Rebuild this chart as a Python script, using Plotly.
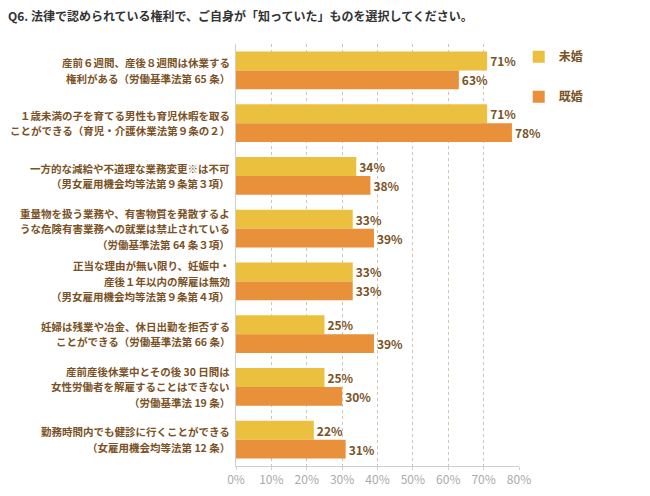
import plotly.graph_objects as go

categories = [
    "産前６週間、産後８週間は休業する<br>権利がある（労働基準法第 65 条）",
    "１歳未満の子を育てる男性も育児休暇を取る<br>ことができる（育児・介護休業法第９条の２）",
    "一方的な減給や不道理な業務変更※は不可<br>（男女雇用機会均等法第９条第３項）",
    "重量物を扱う業務や、有害物質を発散するよ<br>うな危険有害業務への就業は禁止されている<br>（労働基準法第 64 条３項）",
    "正当な理由が無い限り、妊娠中・<br>産後１年以内の解雇は無効<br>（男女雇用機会均等法第９条第４項）",
    "妊婦は残業や冶金、休日出勤を拒否する<br>ことができる（労働基準法第 66 条）",
    "産前産後休業中とその後 30 日間は<br>女性労働者を解雇することはできない<br>（労働基準法 19 条）",
    "勤務時間内でも健診に行くことができる<br>（女雇用機会均等法第 12 条）",
]
unmarried = [71, 71, 34, 33, 33, 25, 25, 22]
married = [63, 78, 38, 39, 33, 39, 30, 31]
series_names = ["未婚", "既婚"]
x_ticks = [0, 10, 20, 30, 40, 50, 60, 70, 80]
x_tick_labels = [f"{t}%" for t in x_ticks]

FONT = "Noto Sans CJK JP"
BROWN = "#7a5226"
LINE_H = 15.5

fig = go.Figure()
for name, vals, color in [(series_names[0], unmarried, "#EBC03F"),
                          (series_names[1], married, "#E9903B")]:
    fig.add_trace(go.Bar(
        y=categories, x=vals, name=name, orientation="h",
        marker=dict(color=color, line=dict(width=0)),
        text=[f"{v}%" for v in vals], texttemplate="<b>%{text}</b>",
        textposition="outside",
        textfont=dict(family=FONT, size=12, color=BROWN),
        cliponaxis=False, legendgroup=name,
    ))

# category labels, one annotation per line so lines never collide
for cat in categories:
    lines = cat.split("<br>")
    n = len(lines)
    for i, ln in enumerate(lines):
        fig.add_annotation(
            x=0, xref="paper", xshift=-4, xanchor="right",
            y=cat, yref="y", yanchor="middle",
            yshift=((n - 1) / 2 - i) * LINE_H,
            text=f"<b>{ln}</b>", showarrow=False,
            font=dict(family=FONT, size=10.5, color=BROWN),
        )

fig.update_layout(
    width=650, height=496,
    margin=dict(l=228, r=139, t=36, b=38, autoexpand=False),
    paper_bgcolor="white", plot_bgcolor="white",
    barmode="group", bargap=0.28, bargroupgap=0,
    title=dict(text="<b>Q6. 法律で認められている権利で、ご自身が「知っていた」ものを選択してください。</b>",
               x=0.0, xanchor="left", y=0.991, yanchor="top", pad=dict(l=0, t=0),
               font=dict(family=FONT, size=12, color="#333333")),
    legend=dict(x=0.999, y=1.004, xanchor="left", yanchor="top",
                traceorder="grouped", tracegroupgap=21,
                font=dict(family=FONT, size=12, color=BROWN, weight="bold"),
                bgcolor="rgba(0,0,0,0)", itemwidth=30),
    showlegend=True,
    xaxis=dict(range=[0, 80], tickvals=x_ticks, ticktext=x_tick_labels,
               showgrid=True, gridcolor="#d2c4b4", griddash="dot", gridwidth=1,
               showline=True, linecolor="#cfcfcf", linewidth=1,
               ticks="outside", ticklen=3, tickcolor="#cfcfcf",
               tickfont=dict(family=FONT, size=12, color="#aaaaaa"),
               zeroline=False, fixedrange=True, automargin=False),
    yaxis=dict(autorange="reversed", showline=True, linecolor="#cfcfcf", linewidth=1,
               ticks="", showticklabels=False, automargin=False,
               fixedrange=True),
)

fig.write_html("out.html")
